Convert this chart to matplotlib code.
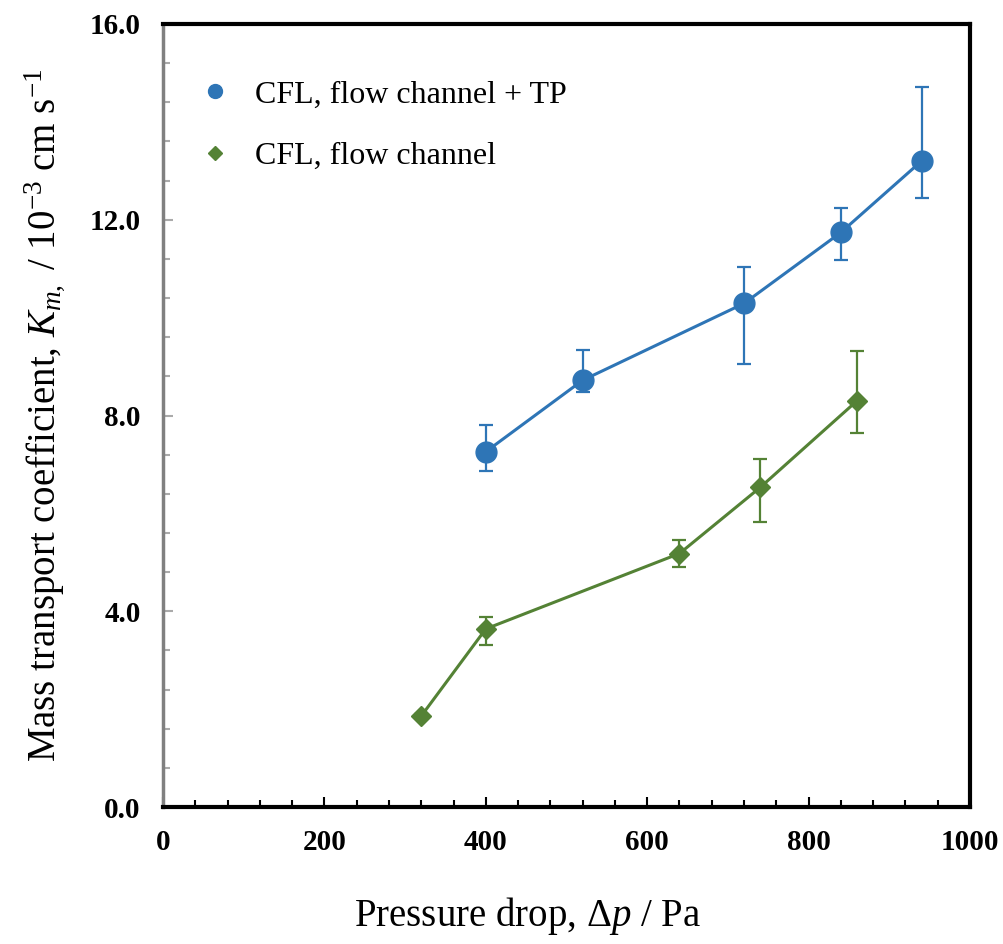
import matplotlib.pyplot as plt
from matplotlib.ticker import MultipleLocator
from matplotlib.lines import Line2D

plt.rcParams['font.family'] = 'Liberation Serif'
plt.rcParams['mathtext.fontset'] = 'custom'
plt.rcParams['mathtext.rm'] = 'Liberation Serif'
plt.rcParams['mathtext.it'] = 'Liberation Serif:italic'

# CFL, flow channel + TP
tp_x = [400, 520, 720, 840, 940]
tp_y = [7.26, 8.72, 10.29, 11.74, 13.20]
tp_err_lo = [0.39, 0.23, 1.24, 0.56, 0.75]
tp_err_hi = [0.54, 0.62, 0.75, 0.49, 1.51]

# CFL, flow channel
fc_x = [320, 400, 640, 740, 860]
fc_y = [1.86, 3.64, 5.18, 6.53, 8.30]
fc_err_lo = [0.04, 0.33, 0.27, 0.70, 0.65]
fc_err_hi = [0.04, 0.24, 0.28, 0.58, 1.02]

blue = '#2E75B6'
green = '#548235'

fig = plt.figure(figsize=(10.04, 9.44), dpi=100)
ax = fig.add_axes([0.1624, 0.1451, 0.8037, 0.8295])

ax.errorbar(tp_x, tp_y, yerr=[tp_err_lo, tp_err_hi], color=blue, marker='o',
            markersize=15, linewidth=2.2, elinewidth=1.6, capsize=5, capthick=1.6)
ax.errorbar(fc_x, fc_y, yerr=[fc_err_lo, fc_err_hi], color=green, marker='D',
            markersize=10.5, linewidth=2.2, elinewidth=1.6, capsize=5, capthick=1.6)

ax.set_xlim(0, 1000)
ax.set_ylim(0, 16)
ax.xaxis.set_major_locator(MultipleLocator(200))
ax.xaxis.set_minor_locator(MultipleLocator(40))
ax.yaxis.set_major_locator(MultipleLocator(4))
ax.yaxis.set_minor_locator(MultipleLocator(0.8))
ax.yaxis.set_major_formatter(plt.FormatStrFormatter('%.1f'))

ax.tick_params(axis='x', which='major', direction='in', length=7, width=1.5,
               color='black', labelsize=21, pad=16)
ax.tick_params(axis='x', which='minor', direction='in', length=5, width=1.5, color='black')
ax.tick_params(axis='y', which='major', direction='in', length=7, width=1.5,
               color='#aaaaaa', labelsize=21, pad=16)
ax.tick_params(axis='y', which='minor', direction='in', length=5, width=1.5, color='#aaaaaa')
for lab in ax.get_xticklabels() + ax.get_yticklabels():
    lab.set_fontweight('bold')

for side in ['top', 'right', 'bottom']:
    ax.spines[side].set_linewidth(3)
    ax.spines[side].set_color('black')
ax.spines['left'].set_linewidth(2.5)
ax.spines['left'].set_color('#808080')

ax.set_xlabel(r'Pressure drop, $\mathit{Δp}$ / Pa', fontsize=28, labelpad=28, x=0.452)
ax.set_ylabel(r'Mass transport coefficient, $K_{m,}$ / 10$^{-3}$ cm s$^{-1}$',
              fontsize=28, labelpad=16)

handles = [
    Line2D([0], [0], color=blue, marker='o', linestyle='none', markersize=10),
    Line2D([0], [0], color=green, marker='D', linestyle='none', markersize=7.5),
]
ax.legend(handles, ['CFL, flow channel + TP', 'CFL, flow channel'], loc='upper left',
          bbox_to_anchor=(0.005, 0.965), frameon=False, fontsize=23,
          handletextpad=0.65, labelspacing=1.0, handlelength=1.2)

fig.savefig('out.png', dpi=100)
